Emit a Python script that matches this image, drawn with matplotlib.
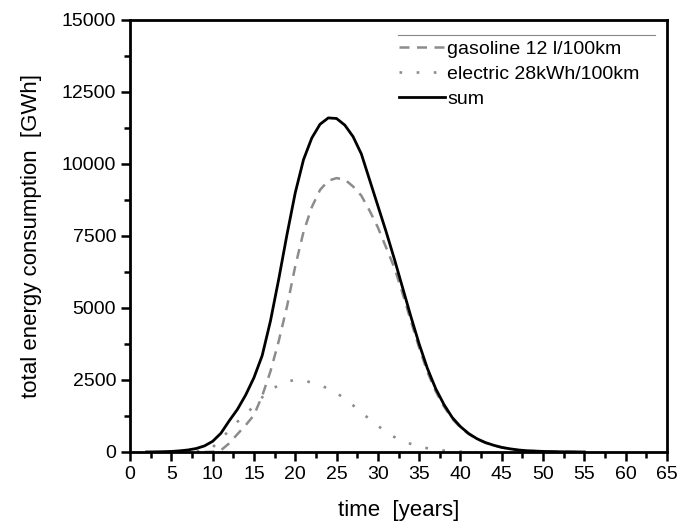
import numpy as np
import matplotlib
matplotlib.use("Agg")
import matplotlib.pyplot as plt
from matplotlib.ticker import MultipleLocator

plt.rcParams['font.family'] = ['Liberation Sans', 'DejaVu Sans']

# values (GWh per year)
sum_years = [2, 4, 5, 6, 7, 8, 9, 10, 11, 12, 13, 14, 15, 16, 17, 18, 19, 20, 21, 22,
             23, 24, 25, 26, 27, 28, 29, 30, 31, 32, 33, 34, 35, 36, 37, 38, 39, 40,
             41, 42, 43, 44, 45, 46, 47, 48, 50, 52, 55]
sum_vals = [0, 10, 20, 40, 70, 120, 210, 370, 650, 1080, 1480, 1980, 2580, 3350, 4550,
            6000, 7550, 9000, 10150, 10900, 11380, 11600, 11580, 11350, 10950, 10350,
            9450, 8550, 7650, 6700, 5700, 4700, 3750, 2900, 2200, 1650, 1200, 880, 640,
            460, 330, 235, 160, 110, 70, 45, 20, 8, 0]

gas_years = [9, 10, 11, 12, 13, 14, 15, 16, 17, 18, 19, 20, 21, 22, 23, 24, 25, 26, 27,
             28, 29, 30, 31, 32, 33, 34, 35, 36, 37, 38, 39, 40, 41, 42, 43, 44, 45, 46,
             47, 48, 50, 52, 55]
gas_vals = [0, 10, 60, 300, 620, 930, 1280, 1950, 2800, 3850, 5050, 6450, 7640, 8500,
            9100, 9420, 9510, 9460, 9220, 8900, 8380, 7800, 7100, 6400, 5500, 4550, 3620,
            2780, 2110, 1580, 1150, 850, 620, 450, 320, 230, 155, 100, 65, 40, 15, 5, 0]

el_years = [6, 7, 8, 9, 10, 11, 12, 13, 14, 15, 16, 17, 18, 19, 20, 21, 22, 23, 24, 25,
            26, 27, 28, 29, 30, 31, 32, 33, 34, 35, 36, 37, 38, 39, 40, 41, 42]
el_vals = [0, 5, 20, 60, 160, 450, 750, 1050, 1300, 1600, 1900, 2150, 2320, 2450, 2500,
           2480, 2410, 2320, 2200, 2050, 1850, 1620, 1370, 1140, 910, 700, 520, 380, 280,
           190, 130, 80, 50, 25, 12, 5, 0]

fig = plt.figure(figsize=(6.79, 5.26), dpi=100)
ax = fig.add_axes([0.1915, 0.1407, 0.7908, 0.8213])

ax.plot(gas_years, gas_vals, color='#8c8c8c', lw=1.8, ls=(0, (4, 3)),
        label='gasoline 12 l/100km')
ax.plot(el_years, el_vals, color='#8c8c8c', lw=1.9, ls=(0, (1, 5.5)),
        label='electric 28kWh/100km')
ax.plot(sum_years, sum_vals, color='black', lw=2.0, label='sum')

ax.set_xlim(0, 65)
ax.set_ylim(0, 15000)
ax.xaxis.set_major_locator(MultipleLocator(5))
ax.xaxis.set_minor_locator(MultipleLocator(2.5))
ax.yaxis.set_major_locator(MultipleLocator(2500))
ax.yaxis.set_minor_locator(MultipleLocator(1250))
ax.tick_params(which='major', direction='out', length=6.5, width=1.8, labelsize=14)
ax.tick_params(which='minor', direction='out', length=4, width=1.8)
for s in ax.spines.values():
    s.set_linewidth(2.0)

ax.set_xlabel('time  [years]', fontsize=16, labelpad=12)
ax.set_ylabel('total energy consumption  [GWh]', fontsize=16, labelpad=14)

# thin grey rule above the legend
ax.plot([0.499, 0.978], [0.965, 0.965], transform=ax.transAxes, color='#888888', lw=0.8)
ax.legend(loc='upper left', bbox_to_anchor=(0.486, 0.971), frameon=False, fontsize=14,
          handlelength=2.4, handletextpad=0.1, labelspacing=0.38, borderaxespad=0.0)

fig.savefig('out.png', dpi=100)
